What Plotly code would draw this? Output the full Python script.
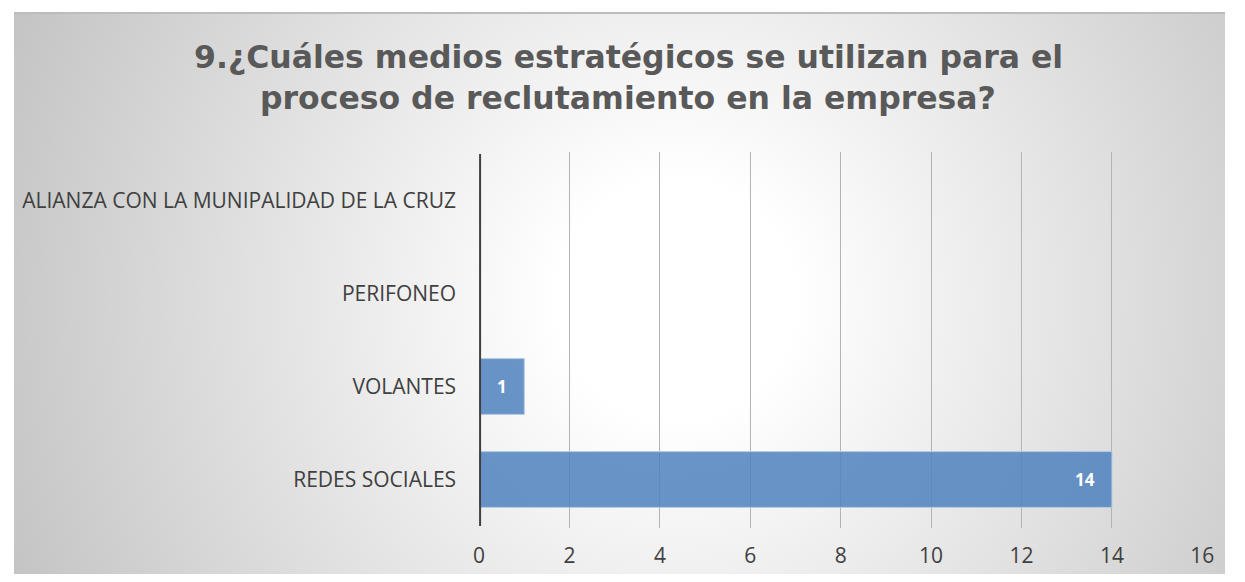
import plotly.graph_objects as go

categories = ["ALIANZA CON LA MUNIPALIDAD DE LA CRUZ", "PERIFONEO", "VOLANTES", "REDES SOCIALES"]
values = [0, 0, 1, 14]
x_ticks = [0, 2, 4, 6, 8, 10, 12, 14, 16]
title_lines = ["9.¿Cuáles medios estratégicos se utilizan para el",
               "proceso de reclutamiento en la empresa?"]

# page body has an 8px margin: keep the figure inside the window
OFF = 8
W, H = 1245 - 2 * OFF, 582 - 2 * OFF

def px_x(x):
    return (x - OFF) / W

def px_y(y):
    return 1 - (y - OFF) / H

fig = go.Figure()

# background panel with circular radial gradient (clipped by the full-size subplot)
cx, cy, R = 680, 300, 800
fig.add_trace(go.Scatter(
    x=[cx - R, cx + R, cx + R, cx - R, cx - R],
    y=[cy - R, cy - R, cy + R, cy + R, cy - R],
    mode="lines", fill="toself",
    line=dict(color="rgba(0,0,0,0)", width=0),
    fillgradient=dict(type="radial",
                      colorscale=[[0, "#ffffff"], [0.15, "#ffffff"], [1, "#bdbdbd"]]),
    hoverinfo="skip", showlegend=False,
    xaxis="x", yaxis="y",
))

fig.add_trace(go.Bar(
    y=categories, x=values, orientation="h",
    width=0.6,
    marker=dict(color="rgba(79,129,189,0.85)", line=dict(color="#b4cbe6", width=1)),
    xaxis="x2", yaxis="y2", showlegend=False, hoverinfo="x+y",
))

annotations = []
for cat, v in zip(categories, values):
    if v:
        annotations.append(dict(
            x=v, y=cat, xref="x2", yref="y2", text="<b>%d</b>" % v,
            showarrow=False, xanchor="right", yanchor="middle", xshift=-15,
            font=dict(family="Open Sans, Lato, sans-serif", size=17, color="white")))

title_y = [57, 98]
for line, yy in zip(title_lines, title_y):
    annotations.append(dict(
        x=px_x(631.5), y=px_y(yy), xref="paper", yref="paper", text="<b>%s</b>" % line,
        showarrow=False, xanchor="center", yanchor="middle",
        font=dict(family="DejaVu Sans, Liberation Sans, Arial, sans-serif", size=31.5, color="#595959")))

fig.update_layout(
    width=W, height=H, autosize=False,
    margin=dict(l=0, r=0, t=0, b=0),
    paper_bgcolor="white", plot_bgcolor="rgba(0,0,0,0)",
    xaxis=dict(domain=[0, 1], range=[OFF, OFF + W], visible=False, fixedrange=True),
    yaxis=dict(domain=[0, px_y(13)], range=[OFF + H, 13], visible=False, fixedrange=True),
    xaxis2=dict(domain=[px_x(480), px_x(1214)], anchor="y2", range=[0, 16],
                tickvals=x_ticks, ticktext=[str(t) for t in x_ticks],
                showgrid=True, gridcolor="#b3b3b3", gridwidth=1,
                zeroline=False, showline=False, ticks="",
                tickfont=dict(family="Open Sans, Lato, sans-serif", size=21, color="#404040"),
                ticklabelstandoff=13),
    yaxis2=dict(domain=[px_y(528), px_y(152)], anchor="x2",
                autorange="reversed",
                showgrid=False, zeroline=False, showline=False, ticks="",
                tickfont=dict(family="Open Sans, Lato, sans-serif", size=21, color="#404040"),
                ticklabelstandoff=22),
    annotations=annotations,
    shapes=[
        dict(type="line", xref="x2", yref="y2", x0=0, x1=0, y0=-0.5, y1=3.5,
             line=dict(color="#404040", width=4)),
        dict(type="line", xref="paper", yref="paper", x0=0, x1=1,
             y0=px_y(13), y1=px_y(13), line=dict(color="#bcbcbc", width=2)),
    ],
)

fig.write_html("out.html", config={"responsive": False})
